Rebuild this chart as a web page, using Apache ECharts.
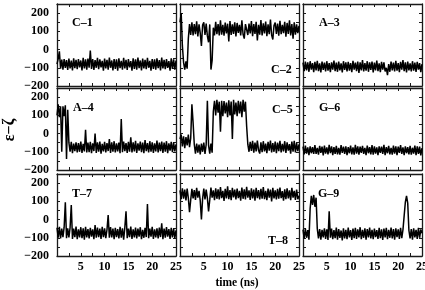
<!DOCTYPE html>
<html><head><meta charset="utf-8">
<script src="https://cdn.jsdelivr.net/npm/echarts@6/dist/echarts.min.js"></script>
<style>html,body{margin:0;padding:0;background:#fff}#c{width:425px;height:290px}</style>
</head><body><div id="c"></div>
<script>
const panelLabels = ['C\u20131','C\u20132','A\u20133','A\u20134','C\u20135','G\u20136','T\u20137','T\u20138','G\u20139'];
const sampleStep = 0.25; // ns between samples
const xTickLabels = [5,10,15,20,25];
const yTickLabels = [-200,-100,0,100,200];

const c1 = [-80,-50,-10,-105,-55,-110,-52,-100,-58,-112,
 -50,-104,-60,-115,-48,-102,-56,-108,-52,-98,
 -60,-114,-46,-104,-54,-110,-50,-100,-5,-106,
 -52,-112,-58,-100,-46,-108,-54,-98,-62,-116,
 -50,-104,-56,-110,-44,-100,-60,-114,-52,-106,
 -54,-116,-48,-102,-62,-110,-46,-104,-56,-112,
 -52,-98,-64,-116,-48,-106,-54,-110,-44,-102,
 -60,-114,-50,-104,-56,-108,-46,-100,-62,-116,
 -52,-106,-54,-110,-48,-102,-58,-114,-44,-104,
 -56,-108,-52,-100,-64,-116,-48,-106,-54,-110,
 -60];
const c2 = [150,200,20,-70,-110,-65,-105,60,140,80,
 150,78,140,85,155,72,138,90,20,135,
 150,80,142,75,40,138,-110,-60,120,78,
 152,84,140,78,160,82,136,76,148,88,
 142,45,156,80,138,86,150,72,146,92,
 136,78,160,84,60,140,150,80,142,88,
 156,74,140,86,152,50,136,82,162,78,
 144,88,154,74,138,84,165,80,55,132,
 148,86,142,76,158,84,136,90,152,70,
 146,86,160,78,140,60,150,82,138,90,
 130];
const a3 = [-72,-118,-66,-114,-70,-122,-64,-110,-74,-124,
 -68,-114,-62,-118,-76,-126,-66,-112,-72,-120,
 -64,-116,-74,-124,-70,-110,-60,-118,-72,-122,
 -66,-114,-76,-126,-64,-112,-70,-120,-68,-116,
 -74,-124,-62,-110,-72,-118,-66,-128,-70,-114,
 -58,-120,-74,-116,-64,-122,-70,-112,-66,-126,
 -72,-114,-60,-118,-76,-124,-68,-110,-70,-120,
 -100,-140,-80,-122,-66,-114,-72,-120,-62,-116,
 -74,-124,-68,-110,-58,-118,-70,-126,-66,-114,
 -76,-120,-64,-116,-72,-122,-68,-110,-74,-124,
 -80];
const a4 = [100,160,90,150,-100,150,95,155,-140,130,
 -50,-100,-45,-108,-55,-96,-48,-104,-52,-100,
 -44,-106,-56,-98,20,-104,-50,-102,-46,-108,
 -54,-96,0,-106,-48,-100,-44,-110,-56,-98,
 -46,-104,-52,-96,-30,-106,-48,-100,-42,-104,
 -54,-98,-50,-108,80,-102,-44,-96,-52,-106,
 -46,-100,-20,-104,-48,-98,-40,-106,-54,-94,
 -44,-102,-50,-108,-36,-96,-52,-104,-42,-100,
 -48,-106,-54,-98,-38,-104,-50,-96,-44,-106,
 -50,-100,-42,-108,-54,-94,-46,-102,-50,-98,
 -60];
const c5 = [-30,-5,-70,-15,-80,-20,-65,-5,-75,-25,
 160,60,-60,-110,-55,-105,-60,-115,-55,-100,
 -50,-112,-60,180,-65,-110,-55,-105,120,180,
 100,185,115,175,10,180,95,178,110,170,
 90,182,100,176,-30,185,105,170,95,180,
 110,175,90,185,120,175,40,-60,-100,-45,
 -95,-40,-105,-50,-98,-38,-92,-110,-48,-102,
 -42,-98,-55,-108,-45,-94,-38,-104,-52,-100,
 -44,-108,-50,-96,-40,-104,-56,-98,-42,-106,
 -48,-94,-58,-110,-44,-100,-40,-104,-52,-96,
 -60];
const g6 = [-72,-114,-66,-110,-76,-118,-70,-108,-74,-112,
 -64,-112,-78,-116,-68,-106,-72,-120,-66,-110,
 -76,-114,-62,-108,-70,-118,-74,-112,-68,-114,
 -78,-116,-64,-106,-72,-112,-70,-118,-74,-108,
 -66,-114,-76,-116,-62,-110,-70,-116,-72,-106,
 -68,-112,-78,-118,-66,-108,-74,-114,-64,-116,
 -70,-110,-76,-118,-70,-106,-72,-112,-62,-118,
 -74,-108,-68,-114,-78,-116,-66,-110,-70,-118,
 -72,-106,-64,-112,-76,-118,-70,-108,-74,-114,
 -68,-116,-78,-110,-66,-118,-70,-112,-72,-120,
 -80];
const t7 = [-45,-100,-40,-104,-50,-96,-42,95,-102,-48,
 -98,-44,80,-106,-50,-96,-38,-108,-54,-98,
 -42,-102,-48,-110,-40,-98,-52,-104,-46,-94,
 -54,-108,-30,-100,-44,-96,-50,-106,-40,-96,
 -48,-102,-56,25,-100,-42,-98,-50,-108,-46,
 -96,-52,-104,-40,-100,-48,-110,-44,45,-102,
 -50,-96,-38,-106,-54,-98,-44,-104,-50,-94,
 -42,-108,-56,-100,-46,-96,85,-102,-50,-94,
 -40,-106,-54,-98,-48,-104,-44,-96,-20,-108,
 -50,-100,-42,-94,-52,-106,-46,-98,-50,-102,
 -60];
const t8 = [160,112,172,115,165,105,170,118,40,108,
 168,116,162,108,174,120,158,104,0,115,
 170,110,164,118,45,108,176,120,160,106,
 172,114,166,110,178,118,158,102,168,116,
 182,112,162,106,174,122,164,110,170,118,
 158,104,176,114,166,110,180,120,160,108,
 172,116,164,104,174,118,162,110,168,114,
 178,112,158,106,170,120,164,100,174,116,
 160,110,168,114,176,118,156,104,166,112,
 172,116,160,106,174,120,158,108,165,112,
 130];
const g9 = [-55,-105,-50,-100,-58,-110,60,130,80,135,
 70,120,-50,-104,-52,-110,-56,-98,-48,-106,
 -54,-112,45,-100,-50,-108,-58,-102,-44,-110,
 -52,-100,-60,-114,-48,-104,-56,-108,-44,-98,
 -58,-112,-50,-102,-46,-106,-54,-98,-42,-108,
 -56,-100,-48,-110,-52,-98,-44,-104,-56,-108,
 -50,-96,-58,-106,-46,-102,-54,-112,-50,-98,
 -46,-108,-56,-100,-44,-104,-52,-110,-48,-96,
 -54,-106,-46,-102,-56,20,95,130,90,-60,
 -104,-52,-110,-48,-98,-56,-106,-46,-100,-54,
 -75];

const panelValues = [c1,c2,a3,a4,c5,g6,t7,t8,g9];
const labelPos = [[72,17],[271,64],[319,17],[73,102],[272,104],[319,102],[72,188],[268,235],[318,188]];

const colLeft = [57,180,303], rowTop = [4,88,174], W = 119, H = 82;
const FONT = 'Liberation Serif';
const axisCol = '#1a1a1a';
const grid = [], xAxis = [], yAxis = [], series = [], graphic = [];
const fmtX = v => xTickLabels.includes(v) ? String(v) : '';
const fmtY = v => yTickLabels.includes(v) ? (v < 0 ? '\u2212' + (-v) : String(v)) : '';

panelValues.forEach((vals, i) => {
  const r = Math.floor(i/3), c = i%3;
  grid.push({left: colLeft[c], top: rowTop[r], width: W, height: H, containLabel: false, outerBoundsMode: 'none'});
  const common = {gridIndex: i, type: 'value', min: 0, max: 25, interval: 2.5,
    axisLine: {show: true, onZero: false, lineStyle: {color: axisCol, width: 1.3}},
    axisTick: {show: true, inside: true, length: 3, lineStyle: {color: axisCol, width: 1}},
    splitLine: {show: false}};
  xAxis.push(Object.assign({}, common, {position: 'bottom',
    axisLabel: {show: r === 2, formatter: fmtX, margin: 5, fontFamily: FONT, fontWeight: 'bold', fontSize: 12, color: '#000'}}));
  xAxis.push(Object.assign({}, common, {position: 'top', axisLabel: {show: false}}));
  const ycommon = {gridIndex: i, type: 'value', min: -200, max: 250, interval: 50,
    axisLine: {show: true, onZero: false, lineStyle: {color: axisCol, width: 1.3}},
    axisTick: {show: true, inside: true, length: 3, lineStyle: {color: axisCol, width: 1}},
    splitLine: {show: false}};
  yAxis.push(Object.assign({}, ycommon, {position: 'left',
    axisLabel: {show: c === 0, formatter: fmtY, margin: 8, fontFamily: FONT, fontWeight: 'bold', fontSize: 12, color: '#000'}}));
  yAxis.push(Object.assign({}, ycommon, {position: 'right', axisLabel: {show: false}}));
  series.push({type: 'line', xAxisIndex: 2*i, yAxisIndex: 2*i,
    data: vals.map((v, k) => [k*sampleStep, v]),
    showSymbol: false, symbol: 'none', clip: true,
    lineStyle: {color: '#000', width: 1.5}});
  const p = labelPos[i];
  graphic.push({type: 'text', left: p[0], top: p[1],
    style: {text: panelLabels[i], font: 'bold 12px "' + FONT + '"', fill: '#000'}});
});

graphic.push({type: 'text', x: 10, y: 130, rotation: Math.PI/2,
  style: {text: '\u03b5\u2212\u03b6', x: 0, y: 0, align: 'center', verticalAlign: 'middle', font: 'bold 16px "' + FONT + '"', fill: '#000'}});
graphic.push({type: 'text', x: 237, y: 283,
  style: {text: 'time (ns)', x: 0, y: 0, align: 'center', verticalAlign: 'middle', font: 'bold 11.5px "' + FONT + '"', fill: '#000'}});

const chart = echarts.init(document.getElementById('c'), null, {renderer: 'canvas'});
chart.setOption({animation: false, backgroundColor: '#fff', grid, xAxis, yAxis, series, graphic});
</script>
</body></html>
